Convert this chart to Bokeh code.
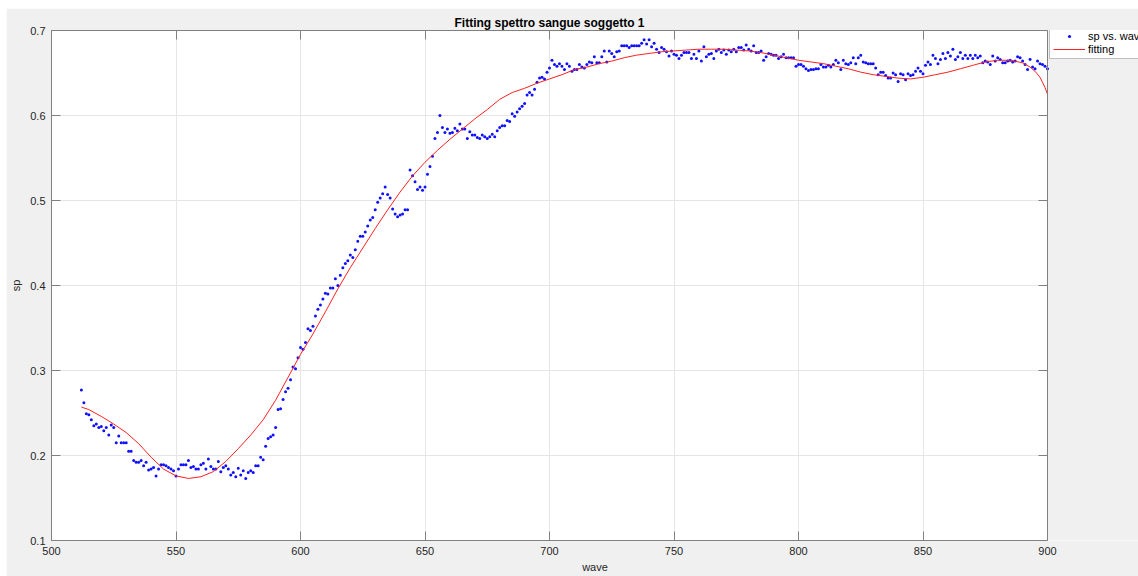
import math

from bokeh.plotting import figure
from bokeh.models import (LinearAxis, Legend, LegendItem, FixedTicker,
                          CustomJSTickFormatter, Range1d, BoxAnnotation, Span)
from bokeh.embed import file_html
from bokeh.resources import INLINE

# Measured blood spectrum, one sample per nm from 512 to 900 nm
wave = list(range(512, 901))
sp = [
    0.277, 0.262, 0.249, 0.248, 0.242, 0.235, 0.237, 0.233, 0.234, 0.229,  # 512
    0.233, 0.224, 0.236, 0.233, 0.215, 0.223, 0.215, 0.215, 0.215, 0.205,  # 522
    0.205, 0.194, 0.192, 0.192, 0.194, 0.188, 0.192, 0.183, 0.184, 0.186,  # 532
    0.176, 0.184, 0.189, 0.189, 0.188, 0.186, 0.184, 0.182, 0.176, 0.184,  # 542
    0.189, 0.189, 0.189, 0.194, 0.186, 0.187, 0.184, 0.184, 0.189, 0.191,  # 552
    0.184, 0.196, 0.187, 0.184, 0.184, 0.193, 0.181, 0.186, 0.188, 0.184,  # 562
    0.177, 0.180, 0.175, 0.185, 0.177, 0.182, 0.173, 0.180, 0.182, 0.180,  # 572
    0.188, 0.188, 0.198, 0.195, 0.211, 0.220, 0.222, 0.224, 0.233, 0.254,  # 582
    0.255, 0.266, 0.275, 0.279, 0.289, 0.304, 0.302, 0.315, 0.327, 0.325,  # 592
    0.333, 0.349, 0.347, 0.352, 0.364, 0.372, 0.377, 0.384, 0.391, 0.390,  # 602
    0.397, 0.397, 0.408, 0.400, 0.412, 0.421, 0.426, 0.429, 0.436, 0.433,  # 612
    0.442, 0.452, 0.458, 0.458, 0.463, 0.470, 0.477, 0.480, 0.489, 0.498,  # 622
    0.503, 0.508, 0.516, 0.507, 0.503, 0.490, 0.484, 0.481, 0.483, 0.484,  # 632
    0.489, 0.489, 0.536, 0.529, 0.522, 0.513, 0.516, 0.512, 0.516, 0.531,  # 642
    0.540, 0.552, 0.573, 0.580, 0.600, 0.586, 0.580, 0.584, 0.579, 0.580,  # 652
    0.585, 0.582, 0.590, 0.584, 0.584, 0.573, 0.581, 0.577, 0.577, 0.574,  # 662
    0.573, 0.577, 0.575, 0.573, 0.575, 0.578, 0.575, 0.582, 0.586, 0.588,  # 672
    0.588, 0.594, 0.593, 0.602, 0.599, 0.604, 0.608, 0.611, 0.614, 0.624,  # 682
    0.627, 0.624, 0.631, 0.639, 0.644, 0.645, 0.643, 0.651, 0.656, 0.665,  # 692
    0.660, 0.658, 0.661, 0.658, 0.654, 0.661, 0.658, 0.652, 0.654, 0.654,  # 702
    0.660, 0.657, 0.656, 0.660, 0.663, 0.662, 0.669, 0.662, 0.662, 0.669,  # 712
    0.676, 0.663, 0.676, 0.673, 0.669, 0.675, 0.676, 0.682, 0.682, 0.682,  # 722
    0.680, 0.682, 0.682, 0.682, 0.682, 0.685, 0.689, 0.684, 0.689, 0.681,  # 732
    0.685, 0.678, 0.674, 0.680, 0.678, 0.675, 0.670, 0.676, 0.672, 0.671,  # 742
    0.667, 0.671, 0.674, 0.674, 0.674, 0.667, 0.672, 0.667, 0.676, 0.664,  # 752
    0.681, 0.669, 0.672, 0.673, 0.667, 0.676, 0.678, 0.674, 0.677, 0.672,  # 762
    0.677, 0.675, 0.678, 0.675, 0.680, 0.680, 0.677, 0.683, 0.678, 0.676,  # 772
    0.682, 0.674, 0.674, 0.676, 0.665, 0.669, 0.673, 0.672, 0.671, 0.671,  # 782
    0.667, 0.669, 0.672, 0.668, 0.668, 0.668, 0.668, 0.658, 0.660, 0.660,  # 792
    0.658, 0.655, 0.653, 0.654, 0.654, 0.655, 0.655, 0.660, 0.657, 0.657,  # 802
    0.659, 0.657, 0.660, 0.665, 0.662, 0.654, 0.665, 0.661, 0.660, 0.662,  # 812
    0.668, 0.661, 0.668, 0.671, 0.663, 0.662, 0.661, 0.661, 0.661, 0.656,  # 822
    0.648, 0.651, 0.651, 0.647, 0.644, 0.644, 0.650, 0.648, 0.640, 0.649,  # 832
    0.648, 0.642, 0.649, 0.647, 0.648, 0.652, 0.656, 0.652, 0.649, 0.659,  # 842
    0.663, 0.660, 0.671, 0.667, 0.661, 0.666, 0.673, 0.667, 0.674, 0.670,  # 852
    0.678, 0.666, 0.669, 0.674, 0.667, 0.671, 0.667, 0.671, 0.667, 0.671,  # 862
    0.668, 0.670, 0.662, 0.664, 0.663, 0.660, 0.670, 0.664, 0.668, 0.666,  # 872
    0.662, 0.662, 0.664, 0.665, 0.663, 0.664, 0.669, 0.668, 0.664, 0.660,  # 882
    0.654, 0.666, 0.657, 0.655, 0.664, 0.661, 0.660, 0.658, 0.655,         # 892
]

# Fitted model evaluated along the wavelength axis
fit_wave = [512, 515, 520, 525, 530, 535, 540, 545, 550, 555, 560, 565,
            570, 575, 580, 585, 590, 595, 600, 605, 610, 615, 620, 625,
            630, 635, 640, 645, 650, 655, 660, 665, 670, 675, 680, 685,
            690, 695, 700, 705, 710, 715, 720, 725, 730, 735, 740, 745,
            750, 755, 760, 765, 770, 775, 780, 785, 790, 795, 800, 805,
            810, 815, 820, 825, 830, 835, 840, 845, 850, 855, 860, 865,
            870, 875, 880, 885, 890, 893, 895, 897, 899, 900]
fit_sp = [0.257, 0.254, 0.246, 0.237, 0.227, 0.214, 0.198, 0.184, 0.176,
          0.173, 0.175, 0.181, 0.193, 0.208, 0.224, 0.242, 0.265, 0.292,
          0.319, 0.343, 0.369, 0.396, 0.421, 0.444, 0.467, 0.489, 0.510,
          0.529, 0.545, 0.559, 0.572, 0.584, 0.596, 0.607, 0.619, 0.627,
          0.632, 0.638, 0.643, 0.648, 0.654, 0.657, 0.661, 0.664, 0.668,
          0.671, 0.673, 0.675, 0.676, 0.677, 0.678, 0.678, 0.678, 0.677,
          0.676, 0.674, 0.671, 0.668, 0.665, 0.663, 0.661, 0.658, 0.655,
          0.651, 0.648, 0.646, 0.644, 0.643, 0.645, 0.648, 0.651, 0.655,
          0.659, 0.663, 0.665, 0.665, 0.662, 0.657, 0.652, 0.645, 0.633,
          0.625]

x_ticks = [500, 550, 600, 650, 700, 750, 800, 850, 900]
y_ticks = [0.1, 0.2, 0.3, 0.4, 0.5, 0.6, 0.7]
X_MIN, X_MAX = 500, 900
Y_MIN, Y_MAX = 0.1, 0.7

FONT = "Liberation Sans"
AX = "#808080"
TXT = "#262626"
FIG_BG = "#f0f0f0"
DOT = "#1010ff"
FIT = "#ff2020"

# The axes box is 996 px wide; the frame runs on to the right edge so the
# legend can sit beside the box, and the strip past 900 is painted grey.
AXES_W = 996
FRAME_W = 1087
x_end = X_MAX + (FRAME_W - AXES_W) * (X_MAX - X_MIN) / AXES_W

p = figure(width=45 + FRAME_W, height=568, output_backend="svg",
           toolbar_location=None,
           x_range=Range1d(X_MIN, x_end), y_range=Range1d(Y_MIN, Y_MAX),
           min_border_left=45, min_border_right=0, min_border_top=22,
           min_border_bottom=36, background_fill_color="white",
           border_fill_color=FIG_BG, title="Fitting spettro sangue soggetto 1")
p.margin = (8, 0, 0, 6)
p.outline_line_color = None

p.title.align = "left"
p.title.offset = 403
p.title.text_font = FONT
p.title.text_font_size = "12px"
p.title.text_font_style = "bold"
p.title.text_color = "#000000"
p.title.standoff = 2

blank = CustomJSTickFormatter(code="return ''")
top_axis = LinearAxis(formatter=blank)
p.add_layout(top_axis, "above")

bottom_axis = p.below[0]
left_axis = p.left[0]

for ax in (bottom_axis, top_axis):
    ax.ticker = FixedTicker(ticks=x_ticks)
    ax.bounds = (X_MIN, X_MAX)
left_axis.ticker = FixedTicker(ticks=y_ticks)

for ax in (bottom_axis, top_axis, left_axis):
    ax.axis_line_color = AX
    ax.major_tick_line_color = AX
    ax.major_tick_in = 9
    ax.major_tick_out = 0
    ax.minor_tick_line_color = None
    ax.major_label_text_font = FONT
    ax.major_label_text_font_size = "11px"
    ax.major_label_text_color = TXT
    ax.axis_label_text_font = FONT
    ax.axis_label_text_font_size = "11px"
    ax.axis_label_text_font_style = "normal"
    ax.axis_label_text_color = TXT

top_axis.major_label_standoff = 0
top_axis.major_label_text_font_size = "1px"

bottom_axis.axis_label = "wave"
bottom_axis.major_label_standoff = 6
bottom_axis.axis_label_standoff = 3
left_axis.axis_label = "sp"
left_axis.major_label_standoff = 6
left_axis.axis_label_standoff = 5

p.xgrid.ticker = FixedTicker(ticks=x_ticks)
p.ygrid.ticker = FixedTicker(ticks=y_ticks)
for g in (p.xgrid, p.ygrid):
    g.grid_line_color = "#e6e6e6"
    g.grid_line_width = 1

# grey strip beyond the axes box (drawn over the grid, under the data)
p.add_layout(BoxAnnotation(left=X_MAX, fill_color=FIG_BG, fill_alpha=1,
                           line_color=None, level="underlay"))

dots = p.scatter(wave, sp, size=3.0, fill_color=DOT, line_color=None)
fit = p.line(fit_wave, fit_sp, line_color=FIT, line_width=1)

# right edge of the axes box with inward ticks
p.add_layout(Span(location=X_MAX, dimension="height", line_color=AX,
                  line_width=1))
p.ray(x=[X_MAX] * len(y_ticks), y=y_ticks, length=9, length_units="screen",
      angle=math.pi, line_color=AX, line_width=1)

legend = Legend(items=[LegendItem(label="sp vs. wave", renderers=[dots]),
                       LegendItem(label="fitting", renderers=[fit])],
                location=(AXES_W + 2, 481), orientation="vertical")
legend.border_line_color = AX
legend.border_line_width = 1
legend.background_fill_color = "white"
legend.background_fill_alpha = 1
legend.label_text_font = FONT
legend.label_text_font_size = "11px"
legend.label_text_color = "#000000"
legend.glyph_width = 32
legend.glyph_height = 8
legend.label_height = 12
legend.label_standoff = 3
legend.padding = 3
legend.spacing = 1
legend.margin = 0
p.add_layout(legend)

open("out.html", "w").write(file_html(p, INLINE))
